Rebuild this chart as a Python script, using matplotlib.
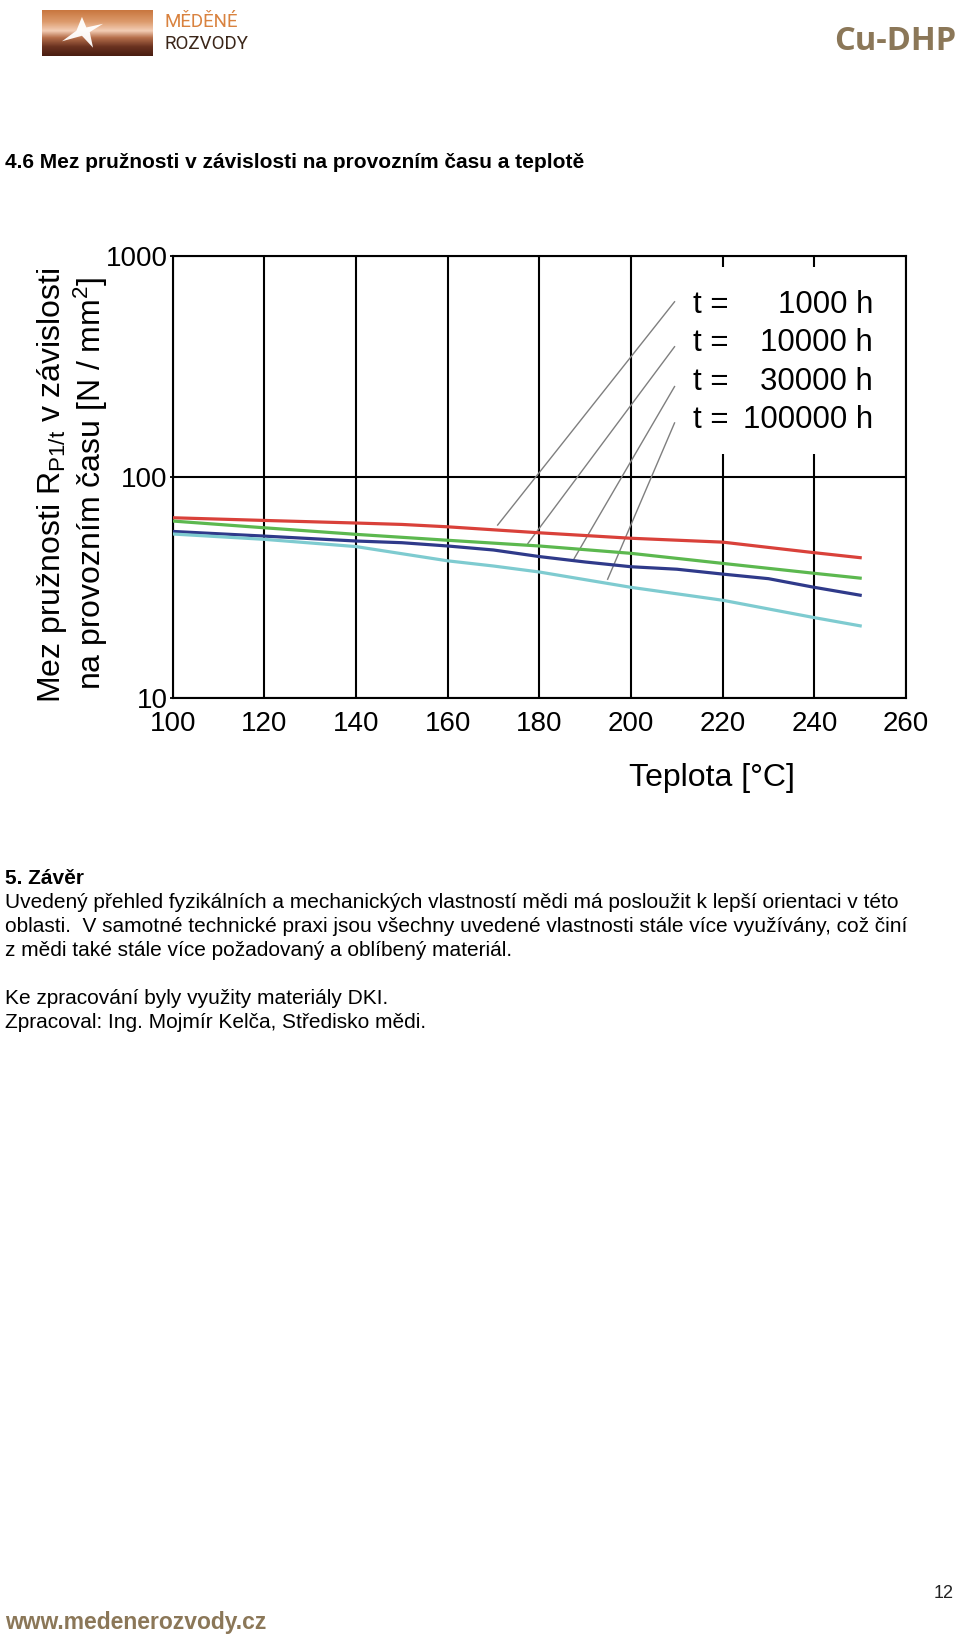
import numpy as np
import matplotlib
matplotlib.use("Agg")
import matplotlib.pyplot as plt
from matplotlib.patches import Rectangle, Polygon
from matplotlib.colors import LinearSegmentedColormap

plt.rcParams['font.family'] = ['Liberation Sans', 'DejaVu Sans']
plt.rcParams['mathtext.fontset'] = 'custom'
plt.rcParams['mathtext.rm'] = 'Liberation Sans'
plt.rcParams['mathtext.it'] = 'Liberation Sans'

# ---------------- data ----------------
t_1000 = [100, 120, 140, 150, 160, 180, 200, 220, 240, 250]
r_1000 = [65.6, 63.8, 62.1, 61.2, 59.7, 56.1, 53.0, 50.9, 45.6, 43.3]
t_10000 = [100, 120, 140, 160, 180, 200, 220, 240, 250]
r_10000 = [63.4, 59.1, 55.2, 51.9, 48.9, 45.3, 40.8, 36.8, 35.0]
t_30000 = [100, 120, 140, 150, 160, 170, 180, 190, 200, 210, 220, 230, 240, 250]
r_30000 = [56.9, 54.2, 51.5, 50.6, 48.9, 46.9, 43.8, 41.4, 39.4, 38.4, 36.5, 34.8, 31.8, 29.3]
t_100000 = [100, 120, 140, 160, 170, 180, 200, 220, 240, 250]
r_100000 = [55.4, 52.4, 48.6, 41.9, 39.7, 37.3, 31.8, 27.8, 23.2, 21.3]

legend_prefix = ["t =", "t =", "t =", "t ="]
legend_values = ["1000 h", "10000 h", "30000 h", "100000 h"]
x_ticks = [100, 120, 140, 160, 180, 200, 220, 240, 260]
y_ticks = [10, 100, 1000]
y_ticklabels = ["10", "100", "1000"]

W, H = 960, 1636
fig = plt.figure(figsize=(W / 100, H / 100), dpi=100)

def fx(x):
    return x / W

def fy(y):
    return 1 - y / H

# ---------------- header ----------------
lax = fig.add_axes([fx(42), fy(56), fx(111), (56 - 10) / H])
cmap = LinearSegmentedColormap.from_list(
    "copper", [(0.0, "#c9773f"), (0.25, "#dc9a6c"), (0.45, "#f3cdb5"),
               (0.6, "#b7704c"), (0.8, "#6a3220"), (1.0, "#4a1e12")])
grad = np.linspace(0, 1, 100).reshape(-1, 1)
lax.imshow(grad, aspect='auto', cmap=cmap, extent=[0, 1, 0, 1], origin='upper')
star = Polygon([(0.36, 0.85), (0.40, 0.62), (0.55, 0.70), (0.43, 0.52),
                (0.46, 0.18), (0.36, 0.44), (0.18, 0.32), (0.31, 0.55)],
               closed=True, facecolor="white", edgecolor="none", alpha=0.95)
lax.add_patch(star)
lax.set_xlim(0, 1)
lax.set_ylim(0, 1)
lax.axis('off')

fig.text(fx(164), fy(22), "MĚDĚNÉ", color="#d9823f", fontsize=13.5,
         ha='left', va='center', family=['Roboto', 'DejaVu Sans'])
fig.text(fx(164), fy(44), "ROZVODY", color="#3b2619", fontsize=13.5,
         ha='left', va='center', family=['Roboto', 'DejaVu Sans'])
fig.text(fx(956), fy(42), "Cu-DHP", color="#8b7758", fontsize=23.5,
         fontweight='bold', ha='right', va='center', family=['Open Sans', 'DejaVu Sans'])

fig.text(fx(5), fy(162), "4.6 Mez pružnosti v závislosti na provozním času a teplotě",
         fontsize=15, fontweight='bold', ha='left', va='center')

# ---------------- chart ----------------
ax = fig.add_axes([fx(172.7), fy(698.5), (906 - 172.7) / W, (698.5 - 256) / H])
ax.set_yscale('log')
ax.set_xlim(100, 260)
ax.set_ylim(10, 1000)

ax.plot(t_1000, r_1000, color="#d9413a", lw=2.3, zorder=3)
ax.plot(t_10000, r_10000, color="#5cb84f", lw=2.3, zorder=3)
ax.plot(t_30000, r_30000, color="#2f3a8a", lw=2.3, zorder=3)
ax.plot(t_100000, r_100000, color="#7ecbd0", lw=2.3, zorder=3)

ax.set_xticks(x_ticks)
ax.set_xticklabels([str(v) for v in x_ticks])
ax.set_yticks(y_ticks)
ax.set_yticklabels(y_ticklabels)
ax.yaxis.set_minor_locator(matplotlib.ticker.NullLocator())
ax.tick_params(axis='x', length=0, labelsize=20, pad=9)
ax.tick_params(axis='y', length=5, direction='inout', width=1.3, labelsize=20, pad=1)
ax.grid(True, axis='x', color='black', lw=1.5)
ax.grid(True, axis='y', which='major', color='black', lw=1.5)
ax.set_axisbelow(True)
for s in ax.spines.values():
    s.set_linewidth(1.5)

# white area behind the legend text
ax.add_patch(Rectangle((212, 128), 42, 892 - 128, facecolor='white',
                       edgecolor='none', zorder=1.5))

legend_y = [600, 403, 270, 182]
for p, v, yy in zip(legend_prefix, legend_values, legend_y):
    ax.text(213.5, yy, p, fontsize=22.5, ha='left', va='center', zorder=4)
    ax.text(252.8, yy, v, fontsize=22.5, ha='right', va='center', zorder=4)

leader_start = [(209.5, 621), (209.5, 389), (209.5, 257), (209.5, 176)]
leader_end = [(170.9, 60.8), (177.5, 50.2), (187.6, 42.9), (194.9, 34.6)]
for (x0, y0), (x1, y1) in zip(leader_start, leader_end):
    ax.plot([x0, x1], [y0, y1], color='#7f7f7f', lw=1.0, zorder=2.5)

fig.text(fx(712), fy(778), "Teplota [°C]", fontsize=23, ha='center', va='center')
fig.text(fx(52), fy(485), r"Mez pružnosti R$_{\mathrm{P1/t}}$ v závislosti",
         fontsize=23, rotation=90, ha='center', va='center')
fig.text(fx(91), fy(483), r"na provozním času [N / mm$^{2}$]",
         fontsize=23, rotation=90, ha='center', va='center')

# ---------------- body text ----------------
fig.text(fx(5), fy(879), "5. Závěr", fontsize=15, fontweight='bold', ha='left', va='center')
body = [
    (903, "Uvedený přehled fyzikálních a mechanických vlastností mědi má posloužit k lepší orientaci v této"),
    (927, "oblasti.  V samotné technické praxi jsou všechny uvedené vlastnosti stále více využívány, což činí"),
    (950, "z mědi také stále více požadovaný a oblíbený materiál."),
    (999, "Ke zpracování byly využity materiály DKI."),
    (1023, "Zpracoval: Ing. Mojmír Kelča, Středisko mědi."),
]
for yy, txt in body:
    fig.text(fx(5), fy(yy), txt, fontsize=15, ha='left', va='center')

# ---------------- footer ----------------
fig.text(fx(5), fy(1623), "www.medenerozvody.cz", color="#8b7758", fontsize=16.5,
         fontweight='bold', ha='left', va='center')
fig.text(fx(944), fy(1594), "12", color="#222222", fontsize=13, ha='center', va='center')

fig.savefig("out.png", dpi=100, facecolor='white')
